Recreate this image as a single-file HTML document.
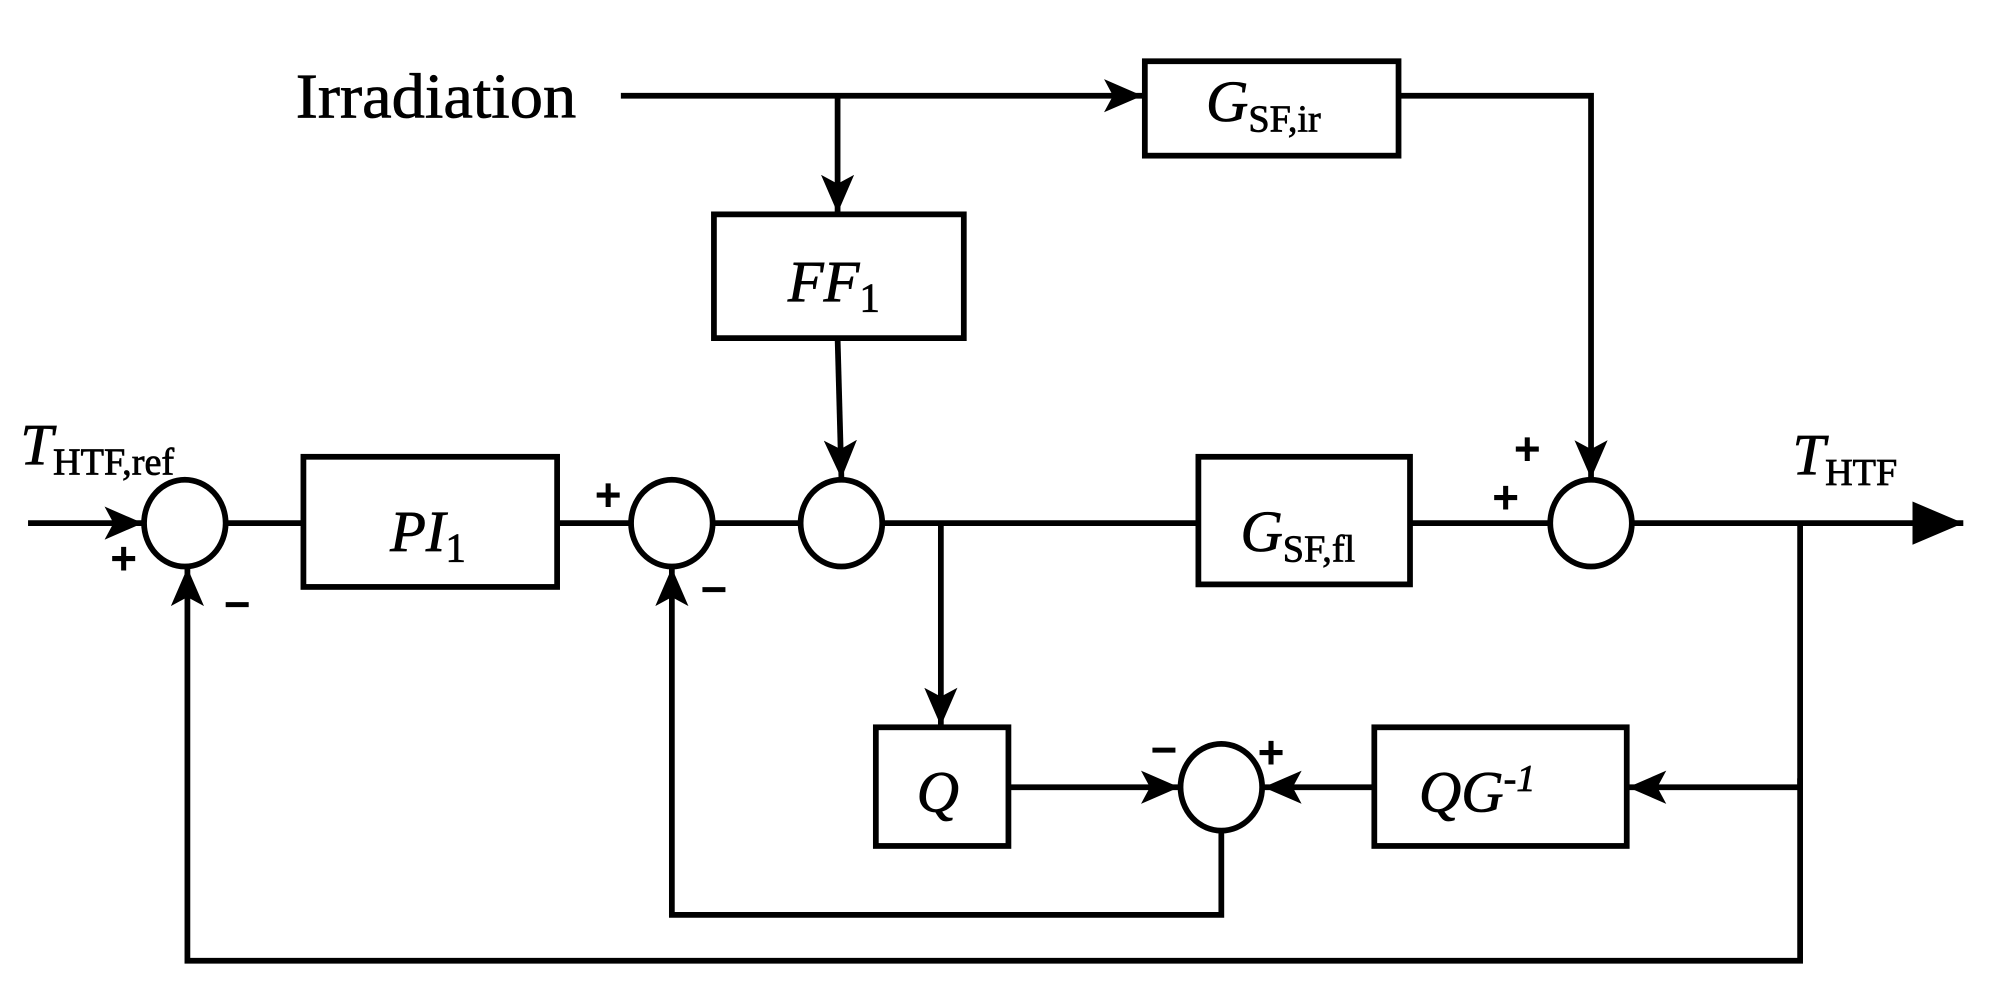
<!DOCTYPE html>
<html><head><meta charset="utf-8"><style>html,body{margin:0;padding:0;background:#fff}svg{display:block}</style></head><body>
<svg width="1999" height="1008" viewBox="0 0 1568 790" preserveAspectRatio="none" xmlns="http://www.w3.org/2000/svg">
<defs>
<marker id="a" viewBox="0 0 30 26" refX="30" refY="13" markerWidth="30" markerHeight="26" markerUnits="userSpaceOnUse" orient="auto">
<path d="M0,0 L30,13 L0,26 L7,13 Z" fill="#000"/></marker>
<marker id="b" viewBox="0 0 40 34" refX="40" refY="17" markerWidth="40" markerHeight="34" markerUnits="userSpaceOnUse" orient="auto">
<path d="M0,0 L40,17 L0,34 Z" fill="#000"/></marker>
</defs>
<g stroke="#000" stroke-width="4.5" fill="none">
<rect x="898" y="48" width="199" height="74"/>
<rect x="560" y="168" width="196" height="97"/>
<rect x="238" y="358" width="199" height="102"/>
<rect x="940" y="358" width="166" height="100"/>
<rect x="687" y="570" width="104" height="93"/>
<rect x="1078" y="570" width="198" height="93"/>
<ellipse cx="145" cy="410" rx="32" ry="34"/>
<ellipse cx="527" cy="410" rx="32" ry="34"/>
<ellipse cx="660" cy="410" rx="32" ry="34"/>
<ellipse cx="1248" cy="410" rx="32" ry="34"/>
<ellipse cx="958" cy="617" rx="32" ry="34"/>
<line x1="487" y1="75" x2="896" y2="75" marker-end="url(#a)"/>
<line x1="657" y1="75" x2="657" y2="167" marker-end="url(#a)"/>
<polyline points="1097,75 1248,75 1248,375" marker-end="url(#a)"/>
<line x1="657" y1="265" x2="660" y2="375" marker-end="url(#a)"/>
<line x1="22" y1="410" x2="112" y2="410" marker-end="url(#a)"/>
<line x1="177" y1="410" x2="238" y2="410"/>
<line x1="437" y1="410" x2="495" y2="410"/>
<line x1="559" y1="410" x2="628" y2="410"/>
<line x1="692" y1="410" x2="940" y2="410"/>
<line x1="1106" y1="410" x2="1216" y2="410"/>
<line x1="1280" y1="410" x2="1540" y2="410" marker-end="url(#b)"/>
<line x1="738" y1="410" x2="738" y2="569" marker-end="url(#a)"/>
<line x1="791" y1="617" x2="925" y2="617" marker-end="url(#a)"/>
<line x1="1078" y1="617" x2="991" y2="617" marker-end="url(#a)"/>
<polyline points="1412,410 1412,617 1277,617" marker-end="url(#a)"/>
<polyline points="958,651 958,717 527,717 527,445" marker-end="url(#a)"/>
<polyline points="1412,610 1412,753 147,753 147,445" marker-end="url(#a)"/>
</g>
<g font-family="'Liberation Serif',serif" fill="#000" stroke="#000" stroke-width="0.6">
<text x="232" y="92" font-size="50" textLength="220" lengthAdjust="spacingAndGlyphs">Irradiation</text>
<text x="946" y="95" font-size="46" font-style="italic">G<tspan font-style="normal" font-size="30" dy="8">SF,ir</tspan></text>
<text x="618" y="236" font-size="46" font-style="italic">FF<tspan font-style="normal" font-size="32" dy="8">1</tspan></text>
<text x="306" y="432" font-size="46" font-style="italic">PI<tspan font-style="normal" font-size="32" dy="8">1</tspan></text>
<text x="973" y="432" font-size="46" font-style="italic">G<tspan font-style="normal" font-size="30" dy="8">SF,fl</tspan></text>
<text x="719" y="636" font-size="46" font-style="italic">Q</text>
<text x="1113" y="636" font-size="46" font-style="italic">QG<tspan font-size="30" dy="-16">-1</tspan></text>
<text x="16" y="364" font-size="46" font-style="italic">T<tspan font-style="normal" font-size="30" dy="8">HTF,ref</tspan></text>
<text x="1406" y="372" font-size="46" font-style="italic">T<tspan font-style="normal" font-size="30" dy="8">HTF</tspan></text>
</g>
<g font-family="'Liberation Sans',sans-serif" font-weight="bold" font-size="36" fill="#000" text-anchor="middle">
<text x="97" y="450">+</text>
<text x="186" y="486">−</text>
<text x="477" y="400">+</text>
<text x="560" y="474">−</text>
<text x="1198" y="364">+</text>
<text x="1181" y="402">+</text>
<text x="913" y="600">−</text>
<text x="997" y="602">+</text>
</g>
</svg>
</body></html>
